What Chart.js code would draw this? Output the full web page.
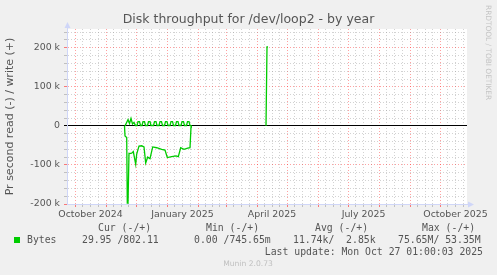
<!DOCTYPE html>
<html>
<head>
<meta charset="utf-8">
<title>Disk throughput for /dev/loop2 - by year</title>
<script src="https://cdn.jsdelivr.net/npm/chart.js@4.4.1/dist/chart.umd.min.js"></script>
<style>
html, body { margin: 0; padding: 0; background: #f0f0f0; }
canvas { display: block; }
</style>
</head>
<body>
<canvas id="munin" width="497" height="275"></canvas>
<script>
// x = days since 2024-09-23 (left edge of the graph), y = k (1000 bytes per second)
var startDate = Date.UTC(2024, 8, 23);
var spanDays = 400;

// write (+)
var writeDays = [58, 59.5, 61, 62.5, 64, 65.5, 67, 68.5,
  70, 71, 72.5, 73.5, 75, 76, 77.5, 78.5, 80.5, 81.5, 83, 84, 86.5, 87.5, 89, 90,
  92, 93, 94.5, 95.5, 97.5, 98.5, 100, 101, 103, 104, 105.5, 106.5, 108.5, 109.5, 111, 112,
  114, 115, 116.5, 117.5, 119.5, 120.5, 122, 123, 124, 125,
  150, 199, 200, 201];
var writeK = [0, 8, 16, 6, 19, 5, 9, 1,
  1, 11, 11, 1, 1, 11, 11, 1, 1, 11, 11, 1, 1, 11, 11, 1,
  1, 11, 11, 1, 1, 11, 11, 1, 1, 11, 11, 1, 1, 11, 11, 1,
  1, 11, 11, 1, 1, 11, 11, 1, 0, 0,
  null, 0, 202, 202];

// read (-), plotted below zero
var readDays = [57.5, 58, 59.7, 60.3, 61, 62, 64.7, 66.3, 68.7, 69.7, 72, 74.7, 77, 78.7, 80.7, 83, 85.7, 89.7,
  94.7, 98, 100.3, 104.7, 109, 111.3, 113.7, 117, 120.7, 123, 124, 124.3];
var readK = [0, 26, 30, 198, 198, 71, 70, 66, 98, 72, 52, 51, 54, 95, 80, 84, 54, 56,
  60, 62, 81, 79, 77, 79, 56, 60, 57, 56, 4, 0];

var monthLabels = ['October 2024', 'January 2025', 'April 2025', 'July 2025', 'October 2025'];
var labelMonths = [[2024, 9], [2025, 0], [2025, 3], [2025, 6], [2025, 9]];
var yMajorK = [-200, -100, 0, 100, 200];
var yLabels = ['-200 k', '-100 k', '0', '100 k', '200 k'];

var seriesName = 'Bytes';
var legendCols = ['Cur (-/+)', 'Min (-/+)', 'Avg (-/+)', 'Max (-/+)'];
var legendVals = ['29.95 /802.11', '0.00 /745.65m', '11.74k/  2.85k', '75.65M/ 53.35M'];
var lastUpdate = 'Last update: Mon Oct 27 01:00:03 2025';
var footer = 'Munin 2.0.73';
var watermark = 'RRDTOOL / TOBI OETIKER';

var green = '#00CC00';
var axisColor = '#CFD6F8';
var gridMinor = 'rgba(143,143,143,0.4)';
var gridMajor = 'rgba(255,0,0,0.37)';
var textColor = '#555555';

function dayOf(y, m, d) {
	return (Date.UTC(y, m, d) - startDate) / 86400000;
}

function points(days, vals, sign) {
	var out = [];
	for (var i = 0; i < days.length; i++) {
		out.push({x: days[i], y: vals[i] === null ? null : sign * vals[i]});
	}
	return out;
}

// white canvas behind the plot
var canvasBg = {
	id: 'canvasBg',
	beforeDraw: function(chart) {
		var a = chart.chartArea;
		chart.ctx.save();
		chart.ctx.fillStyle = '#ffffff';
		chart.ctx.fillRect(a.left, a.top, a.right - a.left, a.bottom - a.top);
		chart.ctx.restore();
	}
};

var muninText = {
	id: 'muninText',
	afterDraw: function(chart) {
		var ctx = chart.ctx;
		var a = chart.chartArea;
		ctx.save();

		// axis arrows
		ctx.fillStyle = axisColor;
		ctx.strokeStyle = axisColor;
		ctx.lineWidth = 1;
		ctx.beginPath();
		ctx.moveTo(a.left + 0.5, a.top);
		ctx.lineTo(a.left + 0.5, a.top - 3);
		ctx.moveTo(a.right, a.bottom + 0.5);
		ctx.lineTo(a.right + 3, a.bottom + 0.5);
		ctx.stroke();
		ctx.beginPath();
		ctx.moveTo(a.left + 0.5, a.top - 7);
		ctx.lineTo(a.left - 2.5, a.top - 1);
		ctx.lineTo(a.left + 3.5, a.top - 1);
		ctx.fill();
		ctx.beginPath();
		ctx.moveTo(a.right + 7, a.bottom + 0.5);
		ctx.lineTo(a.right + 1, a.bottom - 2.5);
		ctx.lineTo(a.right + 1, a.bottom + 3.5);
		ctx.fill();

		// watermark
		ctx.save();
		ctx.translate(485, 5);
		ctx.rotate(Math.PI / 2);
		ctx.font = '7.4px "DejaVu Sans"';
		ctx.fillStyle = '#c4c4c4';
		ctx.textBaseline = 'middle';
		ctx.textAlign = 'left';
		ctx.fillText(watermark, 0, -3);
		ctx.restore();

		// legend table
		ctx.font = '9.8px "DejaVu Sans Mono"';
		ctx.fillStyle = textColor;
		ctx.textBaseline = 'middle';
		ctx.textAlign = 'left';
		var colX = [98, 206, 315, 422];
		var valX = [82, 194, 293, 398];
		for (var i = 0; i < legendCols.length; i++) {
			ctx.fillText(legendCols[i], colX[i], 228);
			ctx.fillText(legendVals[i], valX[i], 240);
		}
		ctx.fillText(seriesName, 27, 240);
		ctx.textAlign = 'right';
		ctx.fillText(lastUpdate, 483, 252);
		ctx.fillStyle = green;
		ctx.fillRect(14, 237, 6, 6);

		ctx.font = '7.6px "DejaVu Sans"';
		ctx.fillStyle = '#c0c0c0';
		ctx.textAlign = 'center';
		ctx.fillText(footer, 248, 264);
		ctx.restore();
	}
};

var ctx = document.getElementById('munin');

var chart = new Chart(ctx, {
	type: 'line',
	data: {
		datasets: [
			{
				label: 'read',
				data: points(readDays, readK, -1),
				borderColor: green,
				borderWidth: 1.3,
				pointRadius: 0,
				tension: 0,
				fill: false,
				spanGaps: false
			},
			{
				label: 'write',
				data: points(writeDays, writeK, 1),
				borderColor: green,
				borderWidth: 1.3,
				pointRadius: 0,
				tension: 0,
				fill: false,
				spanGaps: false
			}
		]
	},
	options: {
		responsive: false,
		devicePixelRatio: 1,
		animation: false,
		events: [],
		layout: {padding: {left: 0, right: 0, top: 0, bottom: 51}},
		plugins: {
			legend: {display: false},
			tooltip: {enabled: false},
			title: {
				display: true,
				text: 'Disk throughput for /dev/loop2 - by year',
				color: textColor,
				font: {family: 'DejaVu Sans', size: 12.5, weight: 'normal'},
				padding: {top: 12, bottom: 2}
			}
		},
		scales: {
			x: {
				type: 'linear',
				min: 0,
				max: spanDays,
				afterBuildTicks: function(scale) {
					var t = [];
					for (var y = 2024; y <= 2025; y++) {
						for (var m = 0; m < 12; m++) {
							var a = dayOf(y, m, 1), b = dayOf(y, m + 1, 1);
							for (var q = 0; q < 4; q++) {
								var v = a + (b - a) * q / 4;
								if (v > 1 && v < spanDays) t.push({value: v, kind: q === 0 ? 'major' : 'minor'});
							}
						}
					}
					labelMonths.forEach(function(lm, i) {
						var v = (dayOf(lm[0], lm[1], 1) + dayOf(lm[0], lm[1] + 1, 1)) / 2;
						t.push({value: v, kind: 'label', text: monthLabels[i]});
					});
					t.sort(function(p, q) { return p.value - q.value; });
					scale.ticks = t;
				},
				afterFit: function(scale) { scale.height = 20; },
				ticks: {
					autoSkip: false,
					maxRotation: 0,
					color: textColor,
					padding: 2,
					font: {family: 'DejaVu Sans', size: 9.4},
					callback: function(value, index, ticks) {
						return ticks[index].kind === 'label' ? ticks[index].text : '';
					}
				},
				grid: {
					lineWidth: 1,
					tickLength: 3,
					color: function(c) {
						if (!c.tick) return 'transparent';
						if (c.tick.kind === 'major') return gridMajor;
						if (c.tick.kind === 'minor') return gridMinor;
						return 'transparent';
					},
					tickColor: function(c) {
						if (!c.tick) return 'transparent';
						if (c.tick.kind === 'major') return 'rgba(255,0,0,0.5)';
						if (c.tick.kind === 'minor') return 'rgba(143,143,143,0.5)';
						return 'transparent';
					}
				},
				border: {color: axisColor, width: 1, dash: [1, 2]}
			},
			y: {
				min: -200,
				max: 248,
				afterBuildTicks: function(scale) {
					var t = [];
					for (var v = -200; v <= 240; v += 20) t.push({value: v});
					scale.ticks = t;
				},
				afterFit: function(scale) { scale.width = 67; },
				ticks: {
					autoSkip: false,
					color: textColor,
					padding: 4,
					font: {family: 'DejaVu Sans', size: 9.4},
					callback: function(value) {
						var i = yMajorK.indexOf(value);
						return i < 0 ? '' : yLabels[i];
					}
				},
				grid: {
					lineWidth: 1,
					tickLength: 3,
					color: function(c) {
						if (!c.tick || c.tick.value === -200) return 'transparent';
						if (c.tick.value === 0) return '#000000';
						return c.tick.value % 100 === 0 ? gridMajor : gridMinor;
					},
					tickColor: function(c) {
						if (!c.tick) return 'transparent';
						if (c.tick.value === 0) return '#000000';
						return c.tick.value % 100 === 0 ? 'rgba(255,0,0,0.5)' : 'rgba(143,143,143,0.5)';
					}
				},
				border: {
					color: axisColor,
					width: 1,
					dash: function(c) {
						return c.tick && c.tick.value === 0 ? [] : [1, 2];
					}
				},
				title: {
					display: true,
					text: 'Pr second read (-) / write (+)',
					color: textColor,
					font: {family: 'DejaVu Sans', size: 11},
					padding: {top: 4, bottom: 0}
				}
			},
			// empty right-hand strip (watermark space), keeps the title centred on the whole image
			yRight: {
				position: 'right',
				min: -200,
				max: 248,
				grid: {display: false},
				border: {display: false},
				ticks: {display: false},
				afterFit: function(scale) { scale.width = 30; }
			}
		}
	},
	plugins: [canvasBg, muninText]
});
</script>
</body>
</html>
